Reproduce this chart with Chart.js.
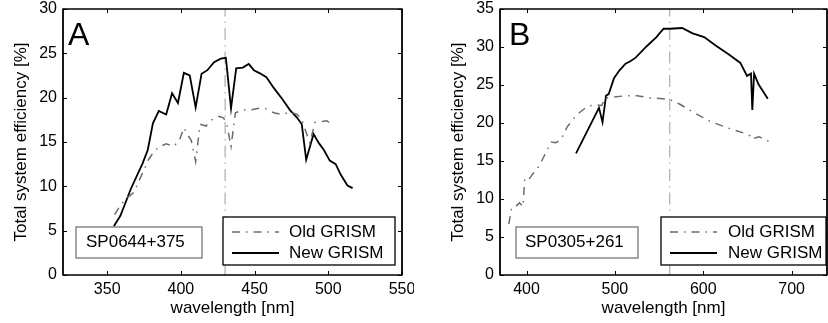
<!DOCTYPE html>
<html lang="en">
<head>
<meta charset="UTF-8">
<title>Total system efficiency: old vs new GRISM</title>
<script src="https://cdn.jsdelivr.net/npm/chart.js"></script>
<style>
  body { margin: 0; background: #fff; }
  .panel { position: absolute; top: 0; width: 414px; height: 323px; }
</style>
</head>
<body>
<div class="panel" style="left:0"><canvas id="chartA" width="414" height="323"></canvas></div>
<div class="panel" style="left:414px"><canvas id="chartB" width="414" height="323"></canvas></div>

<script>
// ---- panel A : SP0644+375 ----
const oldWaveA = [355, 358, 362, 368, 374, 378, 382, 386, 390, 395, 399, 402, 405, 407, 410, 413, 417, 421, 426, 429, 431, 434, 437, 442, 447, 453, 457, 463, 469, 474, 479, 482, 487.5, 491, 495, 499, 503];
const oldEffA  = [6.8, 7.6, 8.5, 9.3, 11.5, 13.0, 14.0, 14.5, 14.8, 14.5, 15.2, 16.6, 15.7, 15.2, 12.8, 17.0, 16.8, 17.5, 17.9, 17.7, 17.1, 14.5, 18.3, 18.6, 18.6, 18.8, 18.8, 18.3, 18.1, 18.4, 18.1, 17.5, 14.9, 17.2, 17.3, 17.4, 16.9];
const newWaveA = [354.5, 359, 366, 374, 377.5, 381, 385, 390, 394, 398, 402, 406, 410, 414, 418, 422.5, 427, 430.5, 434, 437.5, 442, 446, 449.5, 453, 458, 463, 469, 474, 479, 482, 485, 490, 493.5, 497, 501, 505, 508.5, 513, 516.5];
const newEffA  = [5.5, 6.7, 9.7, 12.6, 14.1, 17.1, 18.5, 18.1, 20.5, 19.4, 22.8, 22.5, 18.9, 22.7, 23.1, 24.0, 24.4, 24.5, 18.8, 23.3, 23.4, 23.8, 23.1, 22.8, 22.3, 21.1, 19.8, 18.6, 17.7, 17.0, 13.0, 15.9, 14.9, 14.1, 12.9, 12.5, 11.3, 10.1, 9.8];
const markerA = 430;
const xTicksA = [350, 400, 450, 500, 550];
const yTicksA = [0, 5, 10, 15, 20, 25, 30];

// ---- panel B : SP0305+261 ----
const oldWaveB = [380, 383, 387, 392, 396, 398, 401.5, 407, 412, 418, 428, 433, 439, 446, 457, 469, 478, 485, 489, 498, 513, 525, 540, 554, 562, 573, 592, 610, 629, 648, 653, 655, 663, 676];
const oldEffB  = [6.7, 8.8, 8.9, 9.5, 9.0, 12.6, 12.4, 13.3, 13.9, 15.2, 17.5, 17.4, 17.8, 19.5, 21.1, 22.2, 22.4, 22.3, 23.3, 23.4, 23.6, 23.6, 23.3, 23.2, 23.1, 22.5, 21.2, 20.1, 19.3, 18.6, 18.3, 17.9, 18.2, 17.5];
const newWaveB = [456, 482, 486, 490, 493, 499, 505, 512, 517, 523.5, 536, 547, 555, 562, 576, 588, 601, 614, 629, 642, 649.5, 652.5, 654, 655.5, 657.5, 662.5, 673];
const newEffB  = [16.0, 22.0, 20.1, 23.6, 23.8, 25.9, 26.9, 27.8, 28.1, 28.6, 30.1, 31.3, 32.4, 32.4, 32.5, 31.8, 31.3, 30.2, 29.0, 27.9, 26.2, 26.4, 26.5, 21.7, 26.5, 25.1, 23.2];
const markerB = 562;
const xTicksB = [400, 500, 600, 700];
const yTicksB = [0, 5, 10, 15, 20, 25, 30, 35];

const FONT = "'Liberation Sans', Arial, sans-serif";
const OLD_DASH = [8, 6, 1.5, 6];

const zip = (xs, ys) => xs.map((x, i) => ({ x: x, y: ys[i] }));

// box, inward ticks, legend, star label and panel letter
const framePlugin = {
  id: 'frame',
  afterDraw(chart, args, opts) {
    const ctx = chart.ctx;
    const a = chart.chartArea;
    const xs = chart.scales.x, ys = chart.scales.y;
    ctx.save();
    ctx.strokeStyle = '#000';
    ctx.setLineDash([]);

    // inward tick marks on all four sides
    ctx.lineWidth = 1;
    ctx.beginPath();
    xs.ticks.forEach(t => {
      const px = Math.round(xs.getPixelForValue(t.value)) + 0.5;
      ctx.moveTo(px, a.bottom); ctx.lineTo(px, a.bottom - 4);
      ctx.moveTo(px, a.top); ctx.lineTo(px, a.top + 4);
    });
    ys.ticks.forEach(t => {
      const py = Math.round(ys.getPixelForValue(t.value)) + 0.5;
      ctx.moveTo(a.left, py); ctx.lineTo(a.left + 4, py);
      ctx.moveTo(a.right, py); ctx.lineTo(a.right - 4, py);
    });
    ctx.stroke();

    // axes box
    ctx.lineWidth = 1.3;
    ctx.beginPath();
    ctx.moveTo(a.left, a.top); ctx.lineTo(a.right, a.top);
    ctx.moveTo(a.left, a.bottom); ctx.lineTo(a.right, a.bottom);
    ctx.stroke();
    ctx.lineWidth = 1.8;
    ctx.beginPath();
    ctx.moveTo(a.left, a.top - 0.6); ctx.lineTo(a.left, a.bottom + 0.6);
    ctx.moveTo(a.right, a.top - 0.6); ctx.lineTo(a.right, a.bottom + 0.6);
    ctx.stroke();

    // star name box
    const s = opts.star;
    ctx.fillStyle = '#fff';
    ctx.fillRect(s.x, s.y, s.w, s.h);
    ctx.strokeStyle = '#777';
    ctx.lineWidth = 1.3;
    ctx.strokeRect(s.x, s.y, s.w, s.h);
    ctx.fillStyle = '#000';
    ctx.font = '17px ' + FONT;
    ctx.textBaseline = 'middle';
    ctx.textAlign = 'left';
    ctx.fillText(s.text, s.tx, s.y + s.h / 2);

    // legend
    const l = opts.legend;
    ctx.fillStyle = '#fff';
    ctx.fillRect(l.x, l.y, l.w, l.h);
    ctx.strokeStyle = '#000';
    ctx.lineWidth = 1.3;
    ctx.strokeRect(l.x, l.y, l.w, l.h);
    chart.data.datasets.slice(0, 2).forEach((ds, i) => {
      const yy = l.y + 15 + i * 21;
      ctx.strokeStyle = ds.borderColor;
      ctx.lineWidth = ds.borderWidth;
      ctx.setLineDash(ds.borderDash || []);
      ctx.beginPath();
      ctx.moveTo(l.sx0, yy); ctx.lineTo(l.sx1, yy);
      ctx.stroke();
      ctx.setLineDash([]);
      ctx.fillStyle = '#000';
      ctx.fillText(ds.label, l.tx, yy);
    });

    // panel letter
    ctx.font = '32px ' + FONT;
    ctx.textBaseline = 'alphabetic';
    ctx.fillText(opts.letter, opts.letterX, 45);
    ctx.restore();
  }
};

function makeChart(id, p) {
  return new Chart(document.getElementById(id), {
    type: 'line',
    data: {
      datasets: [
        { label: 'Old GRISM', data: zip(p.oldX, p.oldY), borderColor: '#6c6c6c', borderWidth: 1.5,
          borderDash: OLD_DASH, pointRadius: 0, tension: 0 },
        { label: 'New GRISM', data: zip(p.newX, p.newY), borderColor: '#000', borderWidth: 1.8,
          pointRadius: 0, tension: 0 },
        { label: 'marker', data: [{ x: p.marker, y: p.yMin }, { x: p.marker, y: p.yMax }],
          borderColor: '#b4b4b4', borderWidth: 1.3, borderDash: [12, 5, 1.5, 5], pointRadius: 0 }
      ]
    },
    options: {
      responsive: false,
      animation: false,
      devicePixelRatio: 1,
      layout: { padding: { left: 0, right: p.padRight, top: 9, bottom: 0 } },
      plugins: {
        legend: { display: false },
        tooltip: { enabled: false },
        frame: p.frame
      },
      scales: {
        x: {
          type: 'linear', min: p.xMin, max: p.xMax,
          afterBuildTicks: s => { s.ticks = p.xTicks.map(v => ({ value: v })); },
          afterFit: s => { s.height = 48; s.paddingLeft = 0; s.paddingRight = 0; },
          grid: { display: false, drawTicks: false },
          border: { display: false },
          ticks: { color: '#000', padding: 5, maxRotation: 0, autoSkip: false, font: { family: FONT, size: 16 } },
          title: { display: true, text: 'wavelength [nm]', color: '#000', font: { family: FONT, size: 17 },
                   padding: { top: 0, bottom: 4 } }
        },
        y: {
          min: p.yMin, max: p.yMax,
          afterBuildTicks: s => { s.ticks = p.yTicks.map(v => ({ value: v })); },
          afterFit: s => { s.width = p.yAxisW; s.paddingTop = 0; s.paddingBottom = 0; },
          grid: { display: false, drawTicks: false },
          border: { display: false },
          ticks: { color: '#000', padding: 6, font: { family: FONT, size: 16 } },
          title: { display: true, text: 'Total system efficiency [%]', color: '#000', font: { family: FONT, size: 17 },
                   padding: { top: p.yTitlePad, bottom: 0 } }
        }
      }
    },
    plugins: [framePlugin]
  });
}

makeChart('chartA', {
  oldX: oldWaveA, oldY: oldEffA, newX: newWaveA, newY: newEffA, marker: markerA,
  xMin: 320, xMax: 550, yMin: 0, yMax: 30, xTicks: xTicksA, yTicks: yTicksA,
  yAxisW: 63, padRight: 12, yTitlePad: 11,
  frame: {
    letter: 'A', letterX: 68,
    star: { text: 'SP0644+375', x: 76, y: 227, w: 126, h: 31, tx: 86 },
    legend: { x: 223, y: 217, w: 172, h: 48, sx0: 232, sx1: 279, tx: 289 }
  }
});

makeChart('chartB', {
  oldX: oldWaveB, oldY: oldEffB, newX: newWaveB, newY: newEffB, marker: markerB,
  xMin: 370, xMax: 740, yMin: 0, yMax: 35, xTicks: xTicksB, yTicks: yTicksB,
  yAxisW: 86, padRight: 1, yTitlePad: 34,
  frame: {
    letter: 'B', letterX: 95,
    star: { text: 'SP0305+261', x: 102, y: 227, w: 122, h: 31, tx: 111 },
    legend: { x: 247, y: 217, w: 165, h: 48, sx0: 256, sx1: 303, tx: 314 }
  }
});
</script>
</body>
</html>
